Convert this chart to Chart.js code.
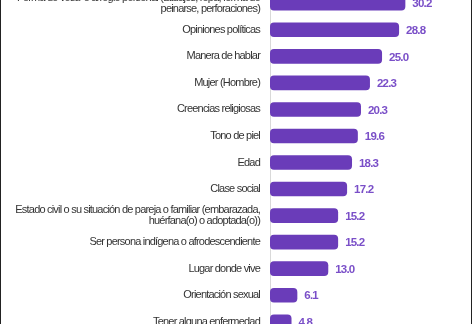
<!DOCTYPE html>
<html>
<head>
<meta charset="utf-8">
<script src="https://cdn.jsdelivr.net/npm/chart.js"></script>
<style>
  html, body { margin: 0; padding: 0; background: #fff; overflow: hidden; }
  #frame { position: relative; width: 470px; height: 324px; border-left: 1px solid #222; border-right: 1px solid #222; overflow: hidden; background: #fff; }
  #grafica { position: absolute; left: 0; top: -10px; }
</style>
</head>
<body>
<div id="frame"><canvas id="grafica" width="468" height="345"></canvas></div>
<script>
const categorias = [
  ['Forma de vestir o arreglo personal (tatuajes, ropa, forma de', 'peinarse, perforaciones)'],
  'Opiniones políticas',
  'Manera de hablar',
  'Mujer (Hombre)',
  'Creencias religiosas',
  'Tono de piel',
  'Edad',
  'Clase social',
  ['Estado civil o su situación de pareja o familiar (embarazada,', 'huérfana(o) o adoptada(o))'],
  'Ser persona indígena o afrodescendiente',
  'Lugar donde vive',
  'Orientación sexual',
  'Tener alguna enfermedad'
];
const porcentajes = [30.2, 28.8, 25.0, 22.3, 20.3, 19.6, 18.3, 17.2, 15.2, 15.2, 13.0, 6.1, 4.8];

const fuente = "'Liberation Sans', Arial, sans-serif";

// letra estrecha: se aprieta el espaciado
const estrecho = {
  id: 'estrecho',
  beforeDraw(chart) { chart.ctx.letterSpacing = '-0.8px'; }
};

const etiquetas = {
  id: 'etiquetas',
  afterDatasetsDraw(chart) {
    const ctx = chart.ctx;
    ctx.save();
    ctx.letterSpacing = '-0.8px';
    ctx.font = 'bold 11.5px ' + fuente;
    ctx.fillStyle = '#7a4fc8';
    ctx.textBaseline = 'middle';
    ctx.textAlign = 'left';
    chart.getDatasetMeta(0).data.forEach((bar, i) => {
      ctx.fillText(porcentajes[i].toFixed(1), bar.x + 7, bar.y + 1);
    });
    ctx.restore();
  }
};

const grafica = new Chart(document.getElementById('grafica'), {
  type: 'bar',
  data: {
    labels: categorias,
    datasets: [{
      data: porcentajes,
      backgroundColor: '#6a3cb9',
      borderRadius: 4,
      borderSkipped: false,
      barPercentage: 0.55,
      categoryPercentage: 1
    }]
  },
  options: {
    indexAxis: 'y',
    responsive: false,
    animation: false,
    layout: { padding: 0 },
    plugins: {
      legend: { display: false },
      tooltip: { enabled: false }
    },
    scales: {
      x: {
        display: false,
        min: 0,
        max: 44.4
      },
      y: {
        afterFit(scale) {
          scale.width = 269;
          scale.paddingTop = 0;
          scale.paddingBottom = 0;
        },
        grid: { display: false, drawTicks: false },
        border: { display: true, color: '#d9d9d9', width: 1 },
        ticks: {
          padding: 10,
          color: '#333333',
          font: { family: fuente, size: 11, lineHeight: 0.95 }
        }
      }
    }
  },
  plugins: [estrecho, etiquetas]
});
</script>
</body>
</html>
